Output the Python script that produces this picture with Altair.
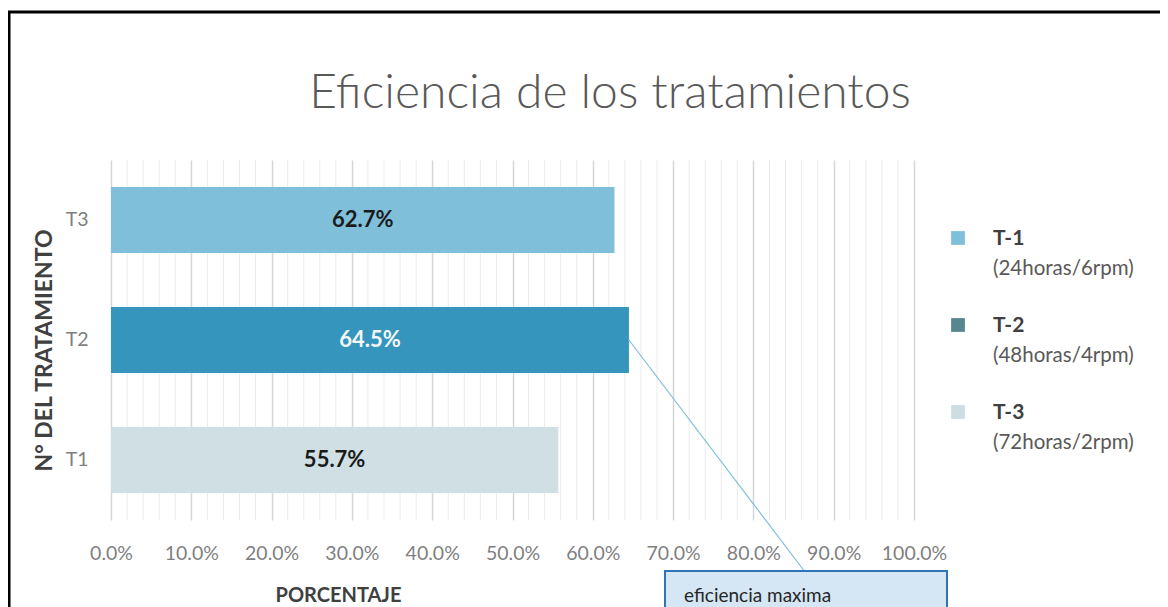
import altair as alt
import pandas as pd

# ---- data ----
treatments = ["T1", "T2", "T3"]
efficiency = [0.557, 0.645, 0.627]
bar_colors = ["#D0DFE3", "#3595BC", "#7FBFDA"]
label_colors = ["#1A1A1A", "#F4F8FA", "#1A1A1A"]

legend_names = ["T-1", "T-2", "T-3"]
legend_sub = ["(24horas/6rpm)", "(48horas/4rpm)", "(72horas/2rpm)"]
legend_colors = ["#7FBFDA", "#56868F", "#CEDDE1"]

major_ticks = [i / 10 for i in range(11)]
minor_ticks = [i / 50 for i in range(51) if i % 5 != 0]

df = pd.DataFrame({"t": treatments, "v": efficiency, "c": bar_colors, "lc": label_colors})
df_minor = pd.DataFrame({"m": minor_ticks})

W, H = 803, 360
FONT = "Lato"

xscale = alt.Scale(domain=[0, 1], nice=False)
yscale = alt.Scale(domain=["T3", "T2", "T1"], paddingInner=0.45, paddingOuter=0.225)

minor = alt.Chart(df_minor).mark_rule(color="#EBEBEB", strokeWidth=1).encode(
    x=alt.X("m:Q", scale=xscale),
    y=alt.value(0), y2=alt.value(H),
)

bars = alt.Chart(df).mark_bar().encode(
    x=alt.X("v:Q", scale=xscale,
            axis=alt.Axis(values=major_ticks, format=".1%", grid=True, gridColor="#D6D6D6",
                          gridWidth=1.5, ticks=False, domain=False, labelOverlap=False,
                          labelFlush=False,
                          labelFont=FONT, labelFontSize=19.5, labelColor="#7F7F7F",
                          labelBaseline="alphabetic", labelPadding=39,
                          title="PORCENTAJE", titleFont=FONT, titleFontSize=20,
                          titleFontWeight="bold", titleColor="#404040",
                          titleX=227, titleY=81, titleBaseline="alphabetic", titleAlign="center")),
    y=alt.Y("t:N", scale=yscale,
            axis=alt.Axis(ticks=False, domain=False, grid=False,
                          labelFont=FONT, labelFontSize=19.5, labelColor="#7F7F7F",
                          labelPadding=23,
                          title="N° DEL TRATAMIENTO", titleFont=FONT, titleFontSize=23,
                          titleFontWeight="bold", titleColor="#404040",
                          titleX=-67, titleY=190, titleAngle=270,
                          titleAlign="center", titleBaseline="middle")),
    color=alt.Color("c:N", scale=None),
)

labels = alt.Chart(df).transform_calculate(mid="datum.v / 2").mark_text(
    font=FONT, fontSize=22, fontWeight="bold", baseline="middle", align="center"
).encode(
    x=alt.X("mid:Q", scale=xscale),
    y=alt.Y("t:N", scale=yscale),
    text=alt.Text("v:Q", format=".1%"),
    color=alt.Color("lc:N", scale=None),
)

# callout leader line from the T2 bar end to the box
callout_df = df[df.t == "T2"]
leader = alt.Chart(callout_df).mark_rule(color="#7FBFDA", strokeWidth=1.2).encode(
    x=alt.X("v:Q", scale=xscale),
    y=alt.Y("t:N", scale=yscale),
    x2=alt.value(694), y2=alt.value(412),
)
box = alt.Chart(callout_df).mark_rect(fill="#D5E6F5", stroke="#2E75B6", strokeWidth=2).encode(
    x=alt.value(554), x2=alt.value(836), y=alt.value(411), y2=alt.value(470),
)
box_text = alt.Chart(callout_df).mark_text(
    font=FONT, fontSize=19, color="#262626", align="left", baseline="alphabetic"
).encode(x=alt.value(573), y=alt.value(442), text=alt.value("eficiencia maxima"))

title = alt.Chart(callout_df).mark_text(
    font=FONT, fontSize=48, fontWeight=300, color="#595959", align="center", baseline="alphabetic"
).encode(x=alt.value(499), y=alt.value(-52), text=alt.value("Eficiencia de los tratamientos"))

border = alt.Chart(callout_df).mark_rect(fill=None, stroke="#000000", strokeWidth=3).encode(
    x=alt.value(-102), x2=alt.value(1500), y=alt.value(-148), y2=alt.value(1000),
)

legend_layers = []
for i, (n, s, c) in enumerate(zip(legend_names, legend_sub, legend_colors)):
    base_y = 85 + i * 87
    legend_layers.append(
        alt.Chart(callout_df).mark_square(size=190, color=c, opacity=1).encode(
            x=alt.value(847), y=alt.value(base_y - 7))
    )
    legend_layers.append(
        alt.Chart(callout_df).mark_text(font=FONT, fontSize=21, fontWeight="bold",
                                        color="#404040", align="left", baseline="alphabetic").encode(
            x=alt.value(882), y=alt.value(base_y), text=alt.value(n))
    )
    legend_layers.append(
        alt.Chart(callout_df).mark_text(font=FONT, fontSize=20.5, color="#595959",
                                        align="left", baseline="alphabetic").encode(
            x=alt.value(882), y=alt.value(base_y + 30), text=alt.value(s))
    )

chart = alt.layer(minor, bars, labels, leader, box, box_text, title, border, *legend_layers).properties(
    width=W, height=H,
    autosize=alt.AutoSizeParams(type="none"),
    padding={"left": 103, "top": 152, "right": 1152 - 103 - W, "bottom": 599 - 152 - H},
).configure(background="white").configure_view(stroke=None)

chart.save("out.html", embed_options={"renderer": "svg", "actions": False})
